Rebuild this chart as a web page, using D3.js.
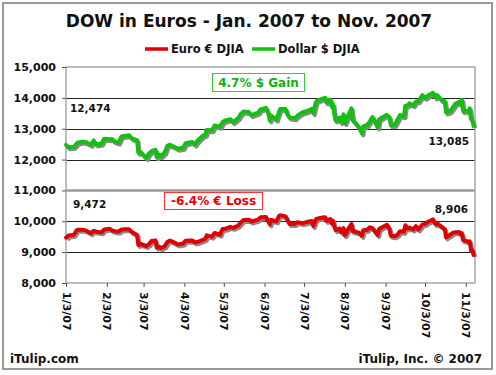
<!DOCTYPE html>
<html>
<head>
<meta charset="utf-8">
<script src="https://cdn.jsdelivr.net/npm/d3@7"></script>
<style>
  body { margin: 0; background: #fff; }
  svg { display: block; font-family: "DejaVu Sans", Verdana, sans-serif; font-weight: bold; }
</style>
</head>
<body>
<div id="chart"></div>
<script>
// trading days (subset) Jan - Nov 2007
const dates = [
  '2007-01-03','2007-01-05','2007-01-09','2007-01-11','2007-01-12','2007-01-16','2007-01-18','2007-01-22','2007-01-24','2007-01-26',
  '2007-01-30','2007-02-01','2007-02-05','2007-02-07','2007-02-09','2007-02-12','2007-02-14','2007-02-16','2007-02-20','2007-02-22',
  '2007-02-26','2007-02-27','2007-03-01','2007-03-05','2007-03-07','2007-03-09','2007-03-12','2007-03-13','2007-03-15','2007-03-16',
  '2007-03-19','2007-03-21','2007-03-23','2007-03-27','2007-03-29','2007-04-02','2007-04-04','2007-04-09','2007-04-11','2007-04-13',
  '2007-04-17','2007-04-19','2007-04-20','2007-04-24','2007-04-26','2007-04-30','2007-05-02','2007-05-04','2007-05-08','2007-05-10',
  '2007-05-14','2007-05-16','2007-05-18','2007-05-22','2007-05-24','2007-05-29','2007-05-31','2007-06-04','2007-06-06','2007-06-07',
  '2007-06-08','2007-06-12','2007-06-14','2007-06-15','2007-06-19','2007-06-20','2007-06-22','2007-06-26','2007-06-28','2007-07-02',
  '2007-07-05','2007-07-09','2007-07-10','2007-07-12','2007-07-13','2007-07-17','2007-07-19','2007-07-20','2007-07-23','2007-07-24',
  '2007-07-25','2007-07-26','2007-07-27','2007-07-30','2007-07-31','2007-08-02','2007-08-03','2007-08-06','2007-08-08','2007-08-09',
  '2007-08-10','2007-08-14','2007-08-16','2007-08-17','2007-08-20','2007-08-22','2007-08-24','2007-08-28','2007-08-29','2007-08-31',
  '2007-09-04','2007-09-06','2007-09-07','2007-09-10','2007-09-12','2007-09-14','2007-09-17','2007-09-18','2007-09-20','2007-09-21',
  '2007-09-24','2007-09-26','2007-09-28','2007-10-01','2007-10-03','2007-10-05','2007-10-09','2007-10-11','2007-10-12','2007-10-16',
  '2007-10-18','2007-10-19','2007-10-22','2007-10-24','2007-10-26','2007-10-29','2007-10-30','2007-10-31','2007-11-01','2007-11-02',
  '2007-11-05','2007-11-06','2007-11-07','2007-11-08','2007-11-09'
];

const dollarDJIA = [
  12474,12398,12416,12514,12556,12582,12567,12477,12621,12487,
  12523,12673,12661,12667,12581,12552,12741,12768,12786,12686,
  12633,12216,12234,12050,12192,12276,12318,12075,12159,12110,
  12226,12447,12481,12397,12348,12383,12531,12569,12484,12612,
  12773,12808,12961,12953,13105,13063,13211,13265,13309,13215,
  13346,13487,13556,13539,13441,13521,13627,13676,13465,13266,
  13424,13295,13553,13639,13635,13489,13360,13337,13422,13535,
  13565,13649,13501,13861,13907,13971,14000,13851,13943,13716,
  13785,13473,13265,13358,13212,13463,13182,13469,13658,13271,
  13240,13029,12846,13079,13121,13237,13379,13042,13289,13358,
  13449,13363,13113,13128,13292,13442,13403,13739,13767,13820,
  13759,13878,13896,14088,14002,14066,14165,14015,14093,13913,
  13889,13523,13567,13676,13807,13870,13793,13930,13567,13595,
  13543,13661,13300,13266,13085
];

const euroDJIA = [
  9472,9537,9565,9701,9726,9723,9704,9613,9694,9665,
  9640,9734,9762,9707,9678,9670,9726,9739,9738,9655,
  9556,9234,9268,9198,9257,9364,9381,9148,9177,9126,
  9192,9331,9377,9300,9249,9276,9373,9380,9316,9328,
  9399,9431,9544,9503,9622,9570,9750,9754,9822,9789,
  9864,9968,10041,10051,9993,10053,10132,10138,9974,9900,
  10048,9996,10175,10194,10160,10066,9911,9916,9972,9938,
  9974,10007,9848,10066,10085,10124,10130,10015,10074,9932,
  10018,9834,9711,9765,9651,9777,9545,9774,9911,9680,
  9678,9623,9530,9710,9727,9805,9780,9555,9743,9800,
  9889,9740,9530,9513,9563,9677,9663,9870,9764,9795,
  9737,9843,9738,9900,9916,9976,10060,9905,9939,9812,
  9747,9477,9561,9624,9648,9652,9579,9613,9382,9376,
  9340,9350,9048,9061,8906
];

const yTicks = [8000, 9000, 10000, 11000, 12000, 13000, 14000, 15000];
const xTickDates = ['2007-01-03','2007-02-03','2007-03-03','2007-04-03','2007-05-03','2007-06-03',
  '2007-07-03','2007-08-03','2007-09-03','2007-10-03','2007-11-03'];
const xDomain = ['2007-01-03', '2007-11-10'];

const seriesNames = ['Euro € DJIA', 'Dollar $ DJIA'];
const seriesColors = ['#e00000', '#11c011'];

const width = 496, height = 375;
const plot = { left: 66, top: 67, right: 475, bottom: 283 };
const fontFamily = '"DejaVu Sans", Verdana, sans-serif';

const parse = d3.timeParse('%Y-%m-%d');

const svg = d3.select('#chart').append('svg')
  .attr('width', width)
  .attr('height', height);

// outer frame
svg.append('rect')
  .attr('x', 3).attr('y', 3)
  .attr('width', 489).attr('height', 366)
  .attr('fill', '#fff')
  .attr('stroke', '#999')
  .attr('stroke-width', 2);

// scales
const xScale = d3.scaleTime()
  .domain(xDomain.map(parse))
  .range([plot.left, plot.right]);

const yScale = d3.scaleLinear()
  .domain([8000, 15000])
  .range([plot.bottom, plot.top]);

// gridlines
svg.append('g').selectAll('line')
  .data(yTicks.filter(v => v > 8000 && v < 15000))
  .enter().append('line')
  .attr('x1', plot.left).attr('x2', plot.right)
  .attr('y1', d => Math.round(yScale(d)) + 0.5)
  .attr('y2', d => Math.round(yScale(d)) + 0.5)
  .attr('stroke', d => d === 11000 ? '#9a9a9a' : '#222')
  .attr('stroke-width', d => d === 11000 ? 2.5 : 1);

// plot border
svg.append('rect')
  .attr('x', plot.left).attr('y', plot.top)
  .attr('width', plot.right - plot.left)
  .attr('height', plot.bottom - plot.top)
  .attr('fill', 'none')
  .attr('stroke', '#a8a8a8')
  .attr('stroke-width', 1.5);

// axes
const yAxis = d3.axisLeft(yScale)
  .tickValues(yTicks)
  .tickSize(4)
  .tickPadding(6)
  .tickFormat(d3.format(','));

svg.append('g')
  .attr('transform', `translate(${plot.left},0)`)
  .call(yAxis)
  .attr('font-family', fontFamily)
  .attr('font-size', 11)
  .call(g => g.select('.domain').remove())
  .call(g => g.selectAll('line').attr('stroke', '#555'))
  .call(g => g.selectAll('text')
    .attr('fill', '#111')
    .style('font-weight', 'bold'));

const xAxis = d3.axisBottom(xScale)
  .tickValues(xTickDates.map(parse))
  .tickSize(4)
  .tickFormat(d3.timeFormat('%-m/%-d/%y'));

svg.append('g')
  .attr('transform', `translate(0,${plot.bottom})`)
  .call(xAxis)
  .attr('font-family', fontFamily)
  .attr('font-size', 11)
  .call(g => g.select('.domain').remove())
  .call(g => g.selectAll('line').attr('stroke', '#555'))
  .call(g => g.selectAll('text')
    .attr('fill', '#111')
    .attr('transform', 'rotate(90)')
    .attr('x', 9).attr('y', 0).attr('dy', '0.36em')
    .style('text-anchor', 'start')
    .style('font-weight', 'bold'));

// lines with drop shadow
const series = [euroDJIA, dollarDJIA];
const line = d3.line()
  .x((d, i) => xScale(parse(dates[i])))
  .y(d => yScale(d));

series.forEach((values, k) => {
  svg.append('path')
    .datum(values)
    .attr('d', line)
    .attr('transform', 'translate(1.5,2)')
    .attr('fill', 'none')
    .attr('stroke', '#8a8a8a')
    .attr('stroke-width', 4)
    .attr('stroke-linejoin', 'round');
  svg.append('path')
    .datum(values)
    .attr('d', line)
    .attr('fill', 'none')
    .attr('stroke', seriesColors[k])
    .attr('stroke-width', 4)
    .attr('stroke-linejoin', 'round')
    .attr('stroke-linecap', 'round');
});

// title
svg.append('text')
  .attr('x', 249).attr('y', 27)
  .attr('text-anchor', 'middle')
  .style('font-size', '17px')
  .attr('fill', '#111')
  .text('DOW in Euros - Jan. 2007 to Nov. 2007');

// legend
const legendX = [145, 252];
const legend = svg.append('g');
seriesNames.forEach((name, k) => {
  legend.append('line')
    .attr('x1', legendX[k]).attr('x2', legendX[k] + 23)
    .attr('y1', 49).attr('y2', 49)
    .attr('stroke', seriesColors[k])
    .attr('stroke-width', 3.5);
  legend.append('text')
    .attr('x', legendX[k] + 26).attr('y', 53)
    .style('font-size', '11.5px')
    .attr('fill', '#111')
    .text(name);
});

// start / end value labels
const valueLabels = [
  { text: d3.format(',')(dollarDJIA[0]), x: 70, y: 112, anchor: 'start' },
  { text: d3.format(',')(euroDJIA[0]), x: 73, y: 207.5, anchor: 'start' },
  { text: d3.format(',')(dollarDJIA[dollarDJIA.length - 1]), x: 469, y: 145, anchor: 'end' },
  { text: d3.format(',')(euroDJIA[euroDJIA.length - 1]), x: 468, y: 213, anchor: 'end' }
];
svg.append('g').selectAll('text')
  .data(valueLabels)
  .enter().append('text')
  .attr('x', d => d.x).attr('y', d => d.y)
  .attr('text-anchor', d => d.anchor)
  .style('font-size', '10.5px')
  .attr('fill', '#111')
  .text(d => d.text);

// gain / loss boxes
const boxes = [
  { text: '4.7% $ Gain', x: 212, y: 73, w: 92, h: 18, color: '#11b011', border: '#33cc33' },
  { text: '-6.4% € Loss', x: 164, y: 192, w: 98, h: 17, color: '#ee0000', border: '#ff3333' }
];
boxes.forEach(b => {
  svg.append('rect')
    .attr('x', b.x + 0.5).attr('y', b.y + 0.5)
    .attr('width', b.w).attr('height', b.h)
    .attr('fill', '#fff')
    .attr('stroke', b.border)
    .attr('stroke-width', 1);
  svg.append('text')
    .attr('x', b.x + b.w / 2 + 0.5).attr('y', b.y + b.h / 2 + 4.5)
    .attr('text-anchor', 'middle')
    .style('font-size', '12px')
    .attr('fill', b.color)
    .text(b.text);
});

// footer
svg.append('text')
  .attr('x', 10).attr('y', 363)
  .style('font-size', '12px')
  .attr('fill', '#111')
  .text('iTulip.com');
svg.append('text')
  .attr('x', 482).attr('y', 363)
  .attr('text-anchor', 'end')
  .style('font-size', '12px')
  .attr('fill', '#111')
  .text('iTulip, Inc. © 2007');
</script>
</body>
</html>
